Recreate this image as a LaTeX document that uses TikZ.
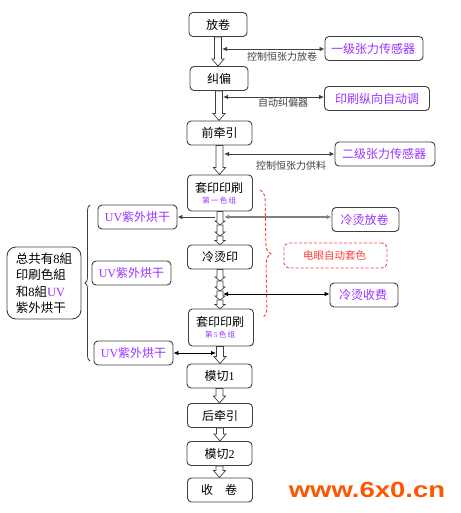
\documentclass[tikz,border=0pt]{standalone}
\usepackage{fontspec}
\setmainfont{Noto Sans CJK SC}
\newfontfamily\latfont{Liberation Serif}
\newfontfamily\wmfont{Liberation Sans}
\usetikzlibrary{arrows.meta,positioning,calc,decorations.pathreplacing}
\definecolor{boxgray}{RGB}{64,64,64}
\definecolor{uvpurple}{RGB}{153,51,255}
\definecolor{eyered}{RGB}{255,60,60}
\definecolor{wmorange}{RGB}{255,85,0}
\newcommand\fs[1]{\fontsize{#1}{#1}\selectfont}
\newcommand\dotend{{\fs{6}\color{gray}.}}
\tikzset{
  % main process boxes
  procbox/.style={draw=boxgray, line width=0.9pt, rounded corners=4pt, fill=white,
    minimum width=65pt, minimum height=24pt, inner sep=0pt, font=\fs{12}},
  % side boxes (sensors, dryers, cold foil)
  sidebox/.style={draw=boxgray, line width=0.9pt, rounded corners=4pt, fill=white,
    minimum height=24pt, inner sep=0pt, text=uvpurple, font=\fs{12}},
  % register control box
  eyebox/.style={draw=eyered, dash pattern=on 3pt off 2pt, line width=0.9pt,
    rounded corners=5pt, minimum height=25pt, inner sep=0pt, text=eyered, font=\fs{10.5}},
  % summary box on the left
  sumbox/.style={draw=boxgray, line width=0.9pt, rounded corners=9pt,
    minimum width=74pt, minimum height=72pt, inner sep=4pt, align=left,
    font=\fontsize{12.5}{16.5}\selectfont},
  % hollow flow arrow between process steps
  flowarr/.style={draw=boxgray, fill=white, line width=0.7pt,
    to path={let \p1=(\tikztostart), \p2=(\tikztotarget) in
      (\x1-3.5pt,\y1) -- (\x1-3.5pt,\y2+7pt) -- (\x1-6pt,\y2+7pt) -- (\x1,\y2)
      -- (\x1+6pt,\y2+7pt) -- (\x1+3.5pt,\y2+7pt) -- (\x1+3.5pt,\y1) -- cycle}},
  % short stacked flow arrows
  flowsm/.style={draw=boxgray, fill=white, line width=0.7pt,
    to path={let \p1=(\tikztostart), \p2=(\tikztotarget) in
      (\x1-3pt,\y1) -- (\x1-3pt,\y2+4pt) -- (\x1-5pt,\y2+4pt) -- (\x1,\y2)
      -- (\x1+5pt,\y2+4pt) -- (\x1+3pt,\y2+4pt) -- (\x1+3pt,\y1) -- cycle}},
  % signal lines
  twoway/.style={{Latex[length=5pt,width=4.5pt]}-{Latex[length=5pt,width=4.5pt]},
    line width=0.8pt, boxgray},
  oneway/.style={-{Latex[length=5pt,width=4.5pt]}, line width=0.8pt, boxgray},
  lbl/.style={font=\fs{10}, text=boxgray, inner sep=0pt},
  bracel/.style={decorate, decoration={brace, amplitude=5pt}, line width=0.8pt, boxgray},
  bracer/.style={decorate, decoration={brace, amplitude=10pt}, line width=0.9pt,
    eyered, dash pattern=on 3pt off 2pt},
}

\begin{document}
\begin{tikzpicture}[x=1pt, y=-1pt]
  \useasboundingbox (0,0) rectangle (460,513);
  % --- main process column ---
  \node[procbox, minimum width=58pt] (fj) at (218,24.5) {放卷};
  \node[procbox, minimum width=58pt] (jp) at (219,78.5) {纠偏};
  \node[procbox] (qqy) at (219.5,133) {前牵引};
  \node[procbox, minimum height=36pt, align=center] (ty1) at (220,193)
    {套印印刷\dotend\\[-1pt]{\fs{7.5}\color{uvpurple}第\,一\,色\,组\dotend}};
  \node[procbox] (lty) at (220,257) {冷烫印};
  \node[procbox, minimum height=37pt, align=center] (ty5) at (221,327.5)
    {套印印刷\dotend\\[-1pt]{\fs{7.5}\color{uvpurple}第\,{\latfont 5}\,色\,组\dotend}};
  \node[procbox] (mq1) at (219.5,376) {模切{\latfont 1}};
  \node[procbox] (hqy) at (220,415.5) {后牵引};
  \node[procbox] (mq2) at (219.5,453.5) {模切{\latfont 2}};
  \node[procbox] (sj) at (220,490) {收\quad 卷\dotend};
  % --- flow arrows ---
  \draw[flowarr] (fj.south) to (jp.north);
  \draw[flowarr] (jp.south) to (qqy.north);
  \draw[flowarr] (qqy.south) to (ty1.north);
  \coordinate (k1) at (220,225);
  \coordinate (k2) at (220,236);
  \draw[flowsm] (ty1.south) to (k1);
  \draw[flowsm] (k1) to (k2);
  \draw[flowsm] (k2) to (lty.north);
  \coordinate (m1) at (220,281);
  \coordinate (m2) at (220,291);
  \coordinate (m3) at (220,300);
  \draw[flowsm] (lty.south) to (m1);
  \draw[flowsm] (m1) to (m2);
  \draw[flowsm] (m2) to (m3);
  \draw[flowsm] (m3) to ($(ty5.north)+(-1pt,0)$);
  \draw[flowarr] ($(ty5.south)+(-1pt,0)$) to (mq1.north);
  \draw[flowarr] (mq1.south) to (hqy.north);
  \draw[flowarr] (hqy.south) to (mq2.north);
  \draw[flowarr] (mq2.south) to (sj.north);
  % --- sensors and controls on the right ---
  \node[sidebox, minimum width=98pt] (zl1) at (374,48.5) {一级张力传感器\dotend};
  \node[sidebox, minimum width=105pt] (jx) at (377,98.5) {印刷纵向自动调};
  \node[sidebox, minimum width=100pt] (zl2) at (385,154) {二级张力传感器\dotend};
  \node[sidebox, minimum width=67pt] (lfj) at (365.5,219.5) {冷烫放卷\dotend};
  \node[sidebox, minimum width=68pt] (lsj) at (364,295) {冷烫收费\dotend};
  \node[eyebox, minimum width=103pt] (dy) at (335.5,255.5) {电眼自动套色\dotend};
  \coordinate (a1) at (222,49);
  \coordinate (a2) at (223,97);
  \coordinate (a3) at (224,154);
  \coordinate (a4) at (224,217);
  \coordinate (a5) at (223,294);
  \draw[twoway] (a1) -- (a1 -| zl1.west);
  \draw[twoway] (a2) -- (a2 -| jx.west);
  \draw[twoway] (a3) -- (a3 -| zl2.west);
  \draw[twoway, gray, line width=1.4pt] (a4) -- (a4 -| lfj.west);
  \draw[twoway, black] (a5) -- (a5 -| lsj.west);
  \node[lbl] (l1) at (283,56.5) {控制恒张力放卷\dotend};
  \node[lbl] (l2) at (284,103) {自动纠偏器\dotend};
  \node[lbl] (l3) at (292,166) {控制恒张力供料\dotend};
  % dashed register brace
  \draw[bracer] (260,190) -- (262,318);
  % --- UV dryers on the left ---
  \node[sidebox, minimum width=79pt] (uv1) at (137.5,217) {{\latfont UV}紫外烘干};
  \node[sidebox, minimum width=79pt] (uv2) at (131.5,273) {{\latfont UV}紫外烘干};
  \node[sidebox, minimum width=79pt] (uv3) at (133.5,353) {{\latfont UV}紫外烘干};
  \coordinate (b1) at (215,217);
  \coordinate (b3) at (216,353);
  \draw[oneway] (b1) -- (b1 -| uv1.east);
  \draw[twoway, black] (b3) -- (b3 -| uv3.east);
  \draw[bracel] (90,361) -- (90,205);
  \node[sumbox] (zg) at (44,283)
    {总共有{\latfont 8}組\\印刷色組\\和{\latfont 8}組{\latfont\color{uvpurple}UV}\\紫外烘干\dotend};
  % watermark
  \node[font=\wmfont\bfseries\fs{22}, text=wmorange, xscale=1.25] (wm) at (367,490) {www.6x0.cn};
\end{tikzpicture}
\end{document}
